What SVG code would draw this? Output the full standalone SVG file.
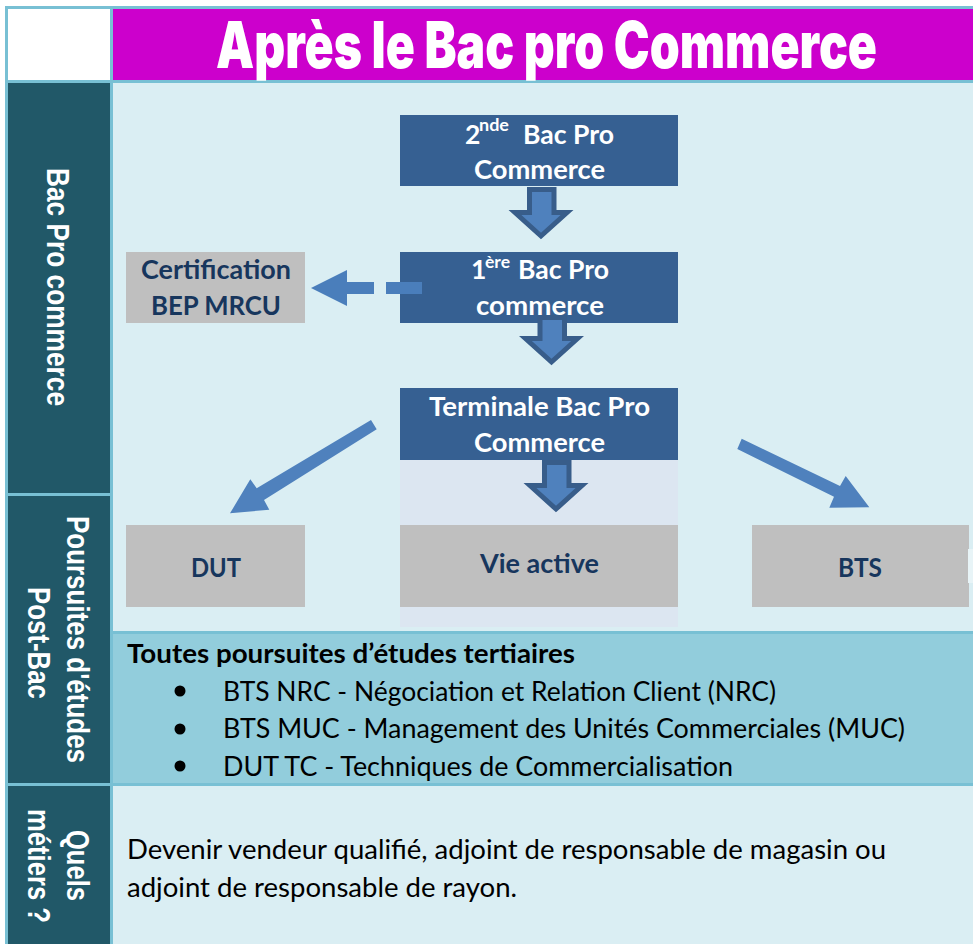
<svg xmlns="http://www.w3.org/2000/svg" width="973" height="944" viewBox="0 0 973 944">
<style>
.hb{fill:#366092}.gb{fill:#bfbfbf}
text{font-family:Lato,"Liberation Sans",sans-serif}
.w{fill:#fff;font-weight:700;font-size:26.5px}
.n{fill:#17365d;font-weight:700;font-size:26.5px}
.sup{fill:#fff;font-weight:700;font-size:17px}
.b{fill:#000;font-size:26px}
.v{fill:#fff;font-family:"Liberation Sans",Arial,sans-serif;font-weight:700;font-size:31px}
.ba{fill:#4f81bd;stroke:#385d8a;stroke-width:5;stroke-linejoin:miter;stroke-miterlimit:10}
.ar{fill:#4f81bd}
</style>
<rect width="973" height="944" fill="#fff"/>
<g id="grid">
<rect x="5" y="6" width="968" height="938" fill="#78c0d4"/>
<rect x="8" y="9" width="102" height="71" fill="#fff"/>
<rect x="113" y="9" width="860" height="71" fill="#cc00cc"/>
<rect x="8" y="83" width="102" height="410" fill="#215868"/>
<rect x="8" y="496" width="102" height="287" fill="#215868"/>
<rect x="8" y="786" width="102" height="158" fill="#215868"/>
<rect x="113" y="83" width="860" height="548" fill="#daeef3"/>
<rect x="113" y="634" width="860" height="149" fill="#92cddc"/>
<rect x="113" y="786" width="860" height="158" fill="#daeef3"/>
<rect x="400" y="460" width="278" height="167" fill="#dce6f1"/>
</g>
<g id="title"><text x="216" y="67.500" textLength="661" lengthAdjust="spacingAndGlyphs" style="font-family:Inter,'Liberation Sans',sans-serif;font-weight:900;font-size:64px;fill:#fff">Après le Bac pro Commerce</text></g>
<g id="label-bac"><text class="v" transform="translate(47,168) rotate(90)" textLength="238" lengthAdjust="spacingAndGlyphs">Bac Pro commerce</text></g>
<g id="label-poursuites"><text class="v" transform="translate(66.500,516) rotate(90)" textLength="247" lengthAdjust="spacingAndGlyphs">Poursuites d'études</text><text class="v" transform="translate(28,587) rotate(90)" textLength="112" lengthAdjust="spacingAndGlyphs">Post-Bac</text></g>
<g id="label-metiers"><text class="v" transform="translate(66.500,830) rotate(90)" textLength="71" lengthAdjust="spacingAndGlyphs">Quels</text><text class="v" transform="translate(28,809) rotate(90)" textLength="114" lengthAdjust="spacingAndGlyphs">métiers ?</text></g>
<g id="node-seconde"><rect class="hb" x="400" y="115" width="278" height="71"/><text class="w" x="465" y="144">2</text><text class="sup" x="479" y="131" textLength="30" lengthAdjust="spacingAndGlyphs">nde</text><text class="w" x="523" y="144" textLength="91" lengthAdjust="spacingAndGlyphs">Bac Pro</text><text class="w" x="474" y="179" textLength="131" lengthAdjust="spacingAndGlyphs">Commerce</text></g>
<g id="node-premiere"><rect class="hb" x="400" y="252" width="278" height="71"/><text class="w" x="471" y="279">1</text><text class="sup" x="485" y="268" textLength="25" lengthAdjust="spacingAndGlyphs">ère</text><text class="w" x="518" y="279" textLength="91" lengthAdjust="spacingAndGlyphs">Bac Pro</text><text class="w" x="476" y="315" textLength="128" lengthAdjust="spacingAndGlyphs">commerce</text></g>
<g id="node-terminale"><rect class="hb" x="400" y="388" width="278" height="72"/><text class="w" x="429" y="416" textLength="221" lengthAdjust="spacingAndGlyphs">Terminale Bac Pro</text><text class="w" x="474" y="452" textLength="131" lengthAdjust="spacingAndGlyphs">Commerce</text></g>
<g id="node-certification"><rect class="gb" x="126" y="252" width="179" height="71"/><text class="n" x="141" y="279" textLength="150" lengthAdjust="spacingAndGlyphs">Certification</text><text class="n" x="151" y="315" textLength="130" lengthAdjust="spacingAndGlyphs">BEP MRCU</text></g>
<g id="node-dut"><rect class="gb" x="126" y="525" width="179" height="82"/><text class="n" x="191" y="576.500" textLength="50" lengthAdjust="spacingAndGlyphs">DUT</text></g>
<g id="node-vie"><rect class="gb" x="400" y="525" width="278" height="82"/><text class="n" x="480" y="572.500" textLength="119" lengthAdjust="spacingAndGlyphs">Vie active</text></g>
<g id="node-bts"><rect class="gb" x="752" y="525" width="217" height="82"/><rect x="968" y="549" width="5" height="34" fill="#e8f4f7"/><text class="n" x="838" y="576.500" textLength="44" lengthAdjust="spacingAndGlyphs">BTS</text></g>
<g id="poursuites-text"><text x="127" y="663" textLength="448" lengthAdjust="spacingAndGlyphs" style="font-weight:700;font-size:26px;fill:#000">Toutes poursuites d’études tertiaires</text>
<circle cx="180" cy="691" r="5.500"/><text class="b" x="223" y="700.500" textLength="553" lengthAdjust="spacingAndGlyphs">BTS NRC - Négociation et Relation Client (NRC)</text>
<circle cx="180" cy="729" r="5.500"/><text class="b" x="223" y="737.500" textLength="682" lengthAdjust="spacingAndGlyphs">BTS MUC - Management des Unités Commerciales (MUC)</text>
<circle cx="180" cy="766" r="5.500"/><text class="b" x="223" y="775.500" textLength="510" lengthAdjust="spacingAndGlyphs">DUT TC - Techniques de Commercialisation</text></g>
<g id="metiers-text"><text class="b" x="127" y="858.500" textLength="759" lengthAdjust="spacingAndGlyphs">Devenir vendeur qualifié, adjoint de responsable de magasin ou</text><text class="b" x="127" y="896.500" textLength="390" lengthAdjust="spacingAndGlyphs">adjoint de responsable de rayon.</text></g>
<g id="connectors">
<polygon class="ba" points="529.500,189.500 554,189.500 554,212.500 567,212.500 541,236 515,212.500 529.500,212.500"/>
<polygon class="ba" points="540,317.500 564.500,317.500 564.500,338.500 577.500,338.500 551.500,362 525.500,338.500 540,338.500"/>
<polygon class="ba" points="544.500,462.500 569,462.500 569,485.500 582,485.500 556,509 530,485.500 544.500,485.500"/>
<polygon fill="#4a7ebb" points="311,288 347,270 347,282 374,282 374,294 347,294 347,306"/>
<rect x="386" y="282" width="36" height="12" fill="#4a7ebb"/>
<polygon class="ar" points="371,420 376.700,429.300 264,500 269.300,509.700 230,513.300 250.300,479.300 256.700,488.300"/>
<polygon class="ar" points="741.700,438.700 737.300,449 834,496.700 829.300,507.700 869.300,507.300 845.700,476 840,486"/>
</g>
</svg>
